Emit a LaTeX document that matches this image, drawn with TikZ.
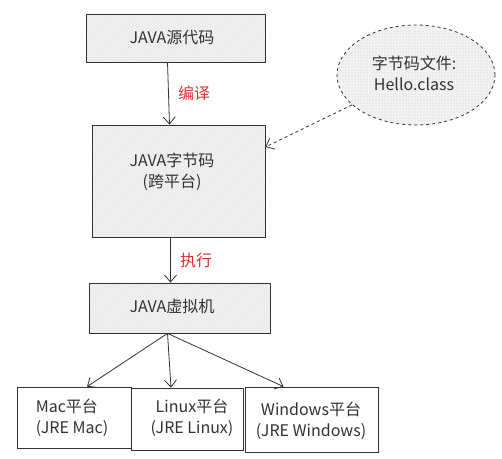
\documentclass[tikz,border=0pt]{standalone}
\usepackage{fontspec}
\setmainfont{Noto Sans CJK SC}
\usetikzlibrary{shapes.geometric,arrows.meta,patterns}

\definecolor{lineGray}{HTML}{333333}
\definecolor{labelRed}{HTML}{E03131}

\tikzset{
  box/.style={draw=lineGray, thick, preaction={fill=black!4},
    pattern=north east lines, pattern color=black!12,
    inner sep=0pt},
  platbox/.style={draw=lineGray, thick, fill=white, inner sep=0pt, align=center},
  txt/.style={font=\fontsize{16}{21}\selectfont, text=lineGray, align=center},
  flow/.style={draw=lineGray, thick, -{Straight Barb[length=7pt,width=12pt]}},
  steplabel/.style={font=\fontsize{16}{18}\selectfont, text=labelRed}
}

\begin{document}
\begin{tikzpicture}[x=1pt,y=-1pt]
  \useasboundingbox (0,0) rectangle (502,458);

  % Boxes
  \node[box, minimum width=179, minimum height=48] (src) at (175.5,38) {};
  \node[txt] (srctxt) at (172,38) {JAVA源代码};

  \node[box, minimum width=173, minimum height=112] (byte) at (178.5,181) {};
  \node[txt] (bytetxt) at (172,172) {JAVA字节码\\(跨平台)};

  \node[box, minimum width=181, minimum height=50] (vm) at (179.5,308) {};
  \node[txt] (vmtxt) at (172,306) {JAVA虚拟机};

  % Platforms
  \node[platbox, minimum width=114, minimum height=61] (mac) at (74,417.5) {};
  \node[txt, align=left] (mactxt) at (72,418) {Mac平台\\(JRE Mac)};

  \node[platbox, minimum width=112, minimum height=62] (linux) at (187,419) {};
  \node[txt] (linuxtxt) at (192,418) {Linux平台\\(JRE Linux)};

  \node[platbox, minimum width=133, minimum height=65] (win) at (311.5,419.5) {};
  \node[txt] (wintxt) at (311,421) {Windows平台\\(JRE Windows)};

  % Note
  \node[ellipse, draw=lineGray, thick, dashed, preaction={fill=black!4},
    pattern=north east lines, pattern color=black!12,
    minimum width=158, minimum height=100] (note) at (416,75) {};
  \node[txt] (notetxt) at (414,73) {字节码文件:\\Hello.class};

  % Arrows
  \draw[flow] ([xshift=-8pt]src.south) -- ([xshift=-9pt]byte.north)
    node[steplabel, midway, right=6pt] {编译};
  \draw[flow] ([xshift=-8pt]byte.south) -- ([xshift=-9pt]vm.north)
    node[steplabel, midway, right=6pt] {执行};
  \draw[flow] ([xshift=-12pt]vm.south) -- ([xshift=13pt]mac.north);
  \draw[flow] ([xshift=-12pt]vm.south) -- ([xshift=-16pt]linux.north);
  \draw[flow] ([xshift=-12pt]vm.south) -- ([xshift=-28pt]win.north);
  \draw[flow, dashed] (note.205) -- ([yshift=34pt]byte.east);
\end{tikzpicture}
\end{document}
